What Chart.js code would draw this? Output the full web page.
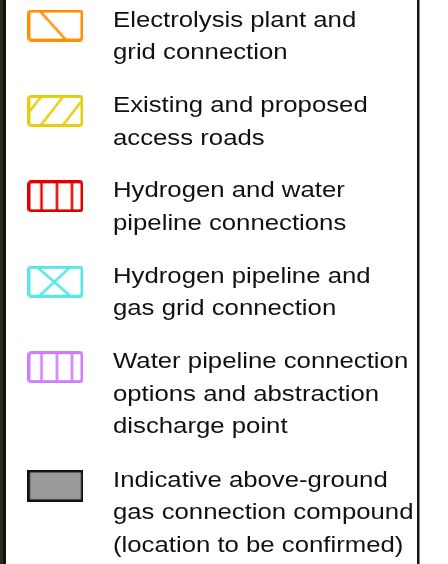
<!DOCTYPE html>
<html>
<head>
<meta charset="utf-8">
<script src="https://cdn.jsdelivr.net/npm/chart.js@4.4.1/dist/chart.umd.min.js"></script>
<style>
  html, body { margin: 0; padding: 0; background: #ffffff; }
  canvas { display: block; }
</style>
</head>
<body>
<canvas id="legend" width="448" height="564"></canvas>
<script>
// Legend entries (text lines per entry)
const labels = [
  ["Electrolysis plant and", "grid connection"],
  ["Existing and proposed", "access roads"],
  ["Hydrogen and water", "pipeline connections"],
  ["Hydrogen pipeline and", "gas grid connection"],
  ["Water pipeline connection", "options and abstraction", "discharge point"],
  ["Indicative above-ground", "gas connection compound", "(location to be confirmed)"]
];
const colors = ["#FF8F00", "#E5CE10", "#E00000", "#55E6E6", "#D07CFF", "#9A9A9A"];
const patterns = ["diag", "hatch", "bars", "cross", "bars", "solid"];
// Row slot of each entry (last entry sits lower, after a 3-line entry)
const slots = [0, 1, 2, 3, 4, 5.39];
// Column of the symbol and of the text
const symbolCol = 0;
const textCol = 1;

// Symbol swatch drawn onto a small canvas, used as a point style
const makeSymbol = (color, kind) => {
  const W = 56, H = 32;
  const c = document.createElement("canvas");
  c.width = W; c.height = H;
  const g = c.getContext("2d");
  g.lineCap = "butt";

  if (kind === "solid") {
    g.fillStyle = color;
    g.fillRect(1.25, 1.25, W - 2.5, H - 2.5);
    g.strokeStyle = "#111111";
    g.lineWidth = 2.5;
    g.strokeRect(1.25, 1.25, W - 2.5, H - 2.5);
    return c;
  }

  g.strokeStyle = color;
  g.lineWidth = 2.5;
  g.save();
  g.beginPath();
  g.rect(0, 0, W, H);
  g.clip();
  g.beginPath();
  if (kind === "diag") {
    g.moveTo(11, 0); g.lineTo(40, H);
  } else if (kind === "hatch") {
    [-10, 12, 34].forEach(x0 => {
      g.moveTo(x0, H); g.lineTo(x0 + 25, 0);
    });
  } else if (kind === "bars") {
    [14, 29.5, 44.5].forEach(x => {
      g.moveTo(x, 0); g.lineTo(x, H);
    });
  } else if (kind === "cross") {
    g.moveTo(8, 0); g.lineTo(45, H);
    g.moveTo(44, 0); g.lineTo(10, H);
  }
  g.stroke();
  g.restore();

  g.lineWidth = 3;
  g.beginPath();
  g.roundRect(1.5, 1.5, W - 3, H - 3, 2.5);
  g.stroke();
  return c;
};

const symbols = colors.map((c, i) => makeSymbol(c, patterns[i]));

// Frame: map edge on the left, black rules left and right
const framePlugin = {
  id: "frame",
  beforeDraw(chart) {
    const ctx = chart.ctx;
    ctx.save();
    ctx.fillStyle = "#ffffff";
    ctx.fillRect(0, 0, chart.width, chart.height);
    ctx.fillStyle = "#27301f";
    ctx.fillRect(0, 0, 3, chart.height);
    ctx.fillStyle = "#111111";
    ctx.fillRect(3, 0, 3, chart.height);
    ctx.fillStyle = "#151515";
    ctx.fillRect(417, 0, 2.5, chart.height);
    ctx.restore();
  }
};

// Entry text next to each symbol
const textPlugin = {
  id: "entryText",
  afterDatasetsDraw(chart) {
    const ctx = chart.ctx;
    const xs = chart.scales.x, ys = chart.scales.y;
    const x = xs.getPixelForValue(textCol);
    ctx.save();
    ctx.fillStyle = "#111111";
    ctx.font = "22px 'Liberation Sans', Arial, sans-serif";
    ctx.textBaseline = "alphabetic";
    labels.forEach((lines, i) => {
      const y0 = ys.getPixelForValue(slots[i]) + 1;
      lines.forEach((line, j) => {
        ctx.save();
        ctx.translate(x, y0 + j * 32.6);
        ctx.scale(1.17, 1);
        ctx.fillText(line, 0, 0);
        ctx.restore();
      });
    });
    ctx.restore();
  }
};

new Chart(document.getElementById("legend"), {
  type: "scatter",
  data: {
    datasets: [{
      data: slots.map(s => ({ x: symbolCol, y: s })),
      pointStyle: symbols,
      pointRadius: 20,
      pointHoverRadius: 20,
      clip: false
    }]
  },
  options: {
    responsive: false,
    animation: false,
    devicePixelRatio: 1,
    events: [],
    layout: { padding: 0, autoPadding: false },
    scales: {
      x: { type: "linear", display: false, min: -0.965, max: 6.826 },
      y: { type: "linear", display: false, reverse: true, min: -0.2986, max: 6.305 }
    },
    plugins: {
      legend: { display: false },
      tooltip: { enabled: false }
    }
  },
  plugins: [framePlugin, textPlugin]
});
</script>
</body>
</html>
